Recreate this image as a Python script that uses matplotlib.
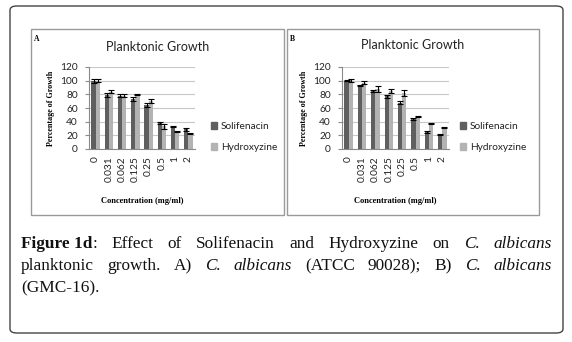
import matplotlib
matplotlib.use("Agg")
import matplotlib.pyplot as plt
import numpy as np
from matplotlib.patches import FancyBboxPatch, Rectangle, Patch

W_PX, H_PX = 572, 342

conc_labels = ["0", "0.031", "0.062", "0.125", "0.25", "0.5", "1", "2"]

# panel A: C. albicans ATCC 90028
sol_a = [100, 79, 78, 73, 65, 38, 33, 29]
sol_a_err = [3, 3, 2, 3, 3, 2, 1, 2]
hyd_a = [100, 84, 78, 80, 70, 33, 26, 23]
hyd_a_err = [2, 2, 2, 1, 3, 4, 1, 1]

# panel B: C. albicans GMC-16
sol_b = [100, 93, 85, 77, 68, 44, 25, 21]
sol_b_err = [1, 1, 1, 2, 2, 1, 1, 1]
hyd_b = [100, 97, 88, 85, 82, 48, 37, 31]
hyd_b_err = [2, 2, 4, 3, 4, 1, 1, 1]

DARK = "#5f5f5f"
LIGHT = "#b3b3b3"
SANS = "Lato"
SERIF = "Liberation Serif"

fig = plt.figure(figsize=(W_PX / 100, H_PX / 100), dpi=100)


def fx(px):
    return px / W_PX


def fy(py):
    return 1 - py / H_PX


# outer rounded box
fig.patches.append(FancyBboxPatch((fx(10), fy(333)), fx(563) - fx(10), fy(6) - fy(333),
                                  boxstyle="round,pad=0,rounding_size=0.012",
                                  transform=fig.transFigure, fill=False,
                                  edgecolor="#444444", linewidth=1.0))


def panel(x0, x1, letter, sol, sol_err, hyd, hyd_err, ax_left, ax_right, leg_x, title_y):
    fig.patches.append(Rectangle((fx(x0), fy(215)), fx(x1) - fx(x0), fy(29) - fy(215),
                                 transform=fig.transFigure, fill=False,
                                 edgecolor="#9a9a9a", linewidth=1.0))
    fig.text(fx(x0 + 3), fy(41), letter, family=SERIF, fontsize=5.5,
             fontweight="bold", va="baseline")
    fig.text(fx((x0 + x1) / 2), fy(title_y), "Planktonic Growth", family=SANS,
             fontsize=9, color="#222222", ha="center", va="center")

    ax = fig.add_axes([fx(ax_left), fy(149), fx(ax_right) - fx(ax_left), fy(67) - fy(149)])
    x = np.arange(len(conc_labels))
    w = 0.32
    ekw = dict(ecolor="black", elinewidth=0.8, capsize=2, capthick=0.8)
    ax.bar(x - w / 2, sol, w, yerr=sol_err, color=DARK, error_kw=ekw, zorder=2)
    ax.bar(x + w / 2, hyd, w, yerr=hyd_err, color=LIGHT, error_kw=ekw, zorder=2)
    ax.set_xlim(-0.5, len(conc_labels) - 0.5)
    ax.set_ylim(0, 120)
    ax.set_yticks(range(0, 121, 20))
    ax.yaxis.grid(True, color="#c8c8c8", linewidth=0.8, zorder=0)
    ax.set_axisbelow(True)
    for s in ["top", "right"]:
        ax.spines[s].set_visible(False)
    ax.spines["left"].set_color("#8a8a8a")
    ax.spines["bottom"].set_color("#8a8a8a")
    ax.set_xticks(x)
    ax.set_xticklabels(conc_labels, rotation=90, family=SANS, fontsize=7.3, color="#222222")
    ax.tick_params(axis="x", length=0, pad=5)
    ax.tick_params(axis="y", length=3, color="#8a8a8a", pad=5, labelsize=7.3,
                   labelcolor="#222222")
    for t in ax.get_yticklabels():
        t.set_family(SANS)
    ax.set_ylabel("Percentage of Growth", family=SERIF, fontsize=5.8,
                  fontweight="bold", labelpad=4)
    ax.set_xlabel("Concentration (mg/ml)", family=SERIF, fontsize=6,
                  fontweight="bold", labelpad=11)
    handles = [Patch(color=DARK), Patch(color=LIGHT)]
    ax.legend(handles, ["Solifenacin", "Hydroxyzine"], frameon=False,
              loc="center left", bbox_to_anchor=(fx(leg_x), fy(137)),
              bbox_transform=fig.transFigure, prop=dict(family=SANS, size=7.3),
              handlelength=0.6, handleheight=0.6, handletextpad=0.4,
              labelspacing=1.2, borderpad=0, borderaxespad=0, labelcolor="#222222")
    return ax


panel(31, 284, "A", sol_a, sol_a_err, hyd_a, hyd_a_err, 89, 195, 211, 47)
panel(287, 539, "B", sol_b, sol_b_err, hyd_b, hyd_b_err, 342, 449, 460, 45)

# caption, justified by hand
caption = [
    [("Figure 1d", "bold"), (":", "normal"), ("Effect", "normal"), ("of", "normal"),
     ("Solifenacin", "normal"), ("and", "normal"), ("Hydroxyzine", "normal"),
     ("on", "normal"), ("C.", "italic"), ("albicans", "italic")],
    [("planktonic", "normal"), ("growth.", "normal"), ("A)", "normal"), ("C.", "italic"),
     ("albicans", "italic"), ("(ATCC", "normal"), ("90028);", "normal"), ("B)", "normal"),
     ("C.", "italic"), ("albicans", "italic")],
    [("(GMC-16).", "normal")],
]
baselines = [248, 270, 292]
left_px, right_px = 21, 552
renderer = fig.canvas.get_renderer()
for words, base in zip(caption, baselines):
    texts = []
    for word, style in words:
        kw = dict(family=SERIF, fontsize=12.4, va="baseline", ha="left", color="#111111")
        if style == "bold":
            kw["fontweight"] = "bold"
        elif style == "italic":
            kw["fontstyle"] = "italic"
        texts.append(fig.text(0, fy(base), word, **kw))
    widths = [t.get_window_extent(renderer).width for t in texts]
    if len(texts) > 1:
        # ":" glued to the bold word
        gaps = len(texts) - 1 - (1 if words[1][0] == ":" else 0)
        gap = (right_px - left_px - sum(widths)) / gaps
    else:
        gap = 0
    pos = left_px
    for i, (t, wd) in enumerate(zip(texts, widths)):
        t.set_x(fx(pos))
        pos += wd
        if i + 1 < len(texts) and words[i + 1][0] != ":":
            pos += gap

fig.savefig("out.png", dpi=100)
